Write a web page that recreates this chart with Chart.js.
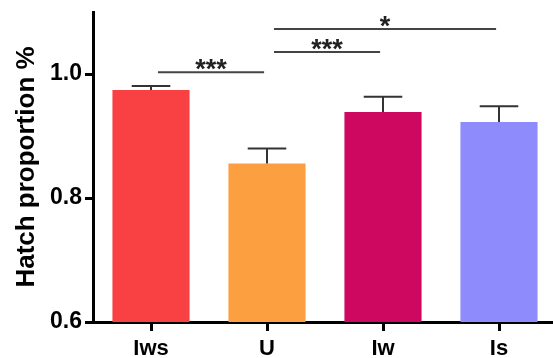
<!DOCTYPE html>
<html>
<head>
<meta charset="utf-8">
<script src="https://cdn.jsdelivr.net/npm/chart.js@4"></script>
<style>
  html, body { margin: 0; padding: 0; background: #fff; overflow: hidden; width: 553px; height: 358px; }
  #c { display: block; }
</style>
</head>
<body>
<canvas id="c" width="557" height="358"></canvas>
<script>
// Hatch proportion per treatment group (mean and SEM)
const groups = ['Iws', 'U', 'Iw', 'Is'];
const means = [0.974, 0.8555, 0.9387, 0.9226];
const sems = [0.0066, 0.0245, 0.0248, 0.0254];
const barColors = ['#F94144', '#FB9F40', '#CE0860', '#8E8CFC'];
const yTickValues = [0.6, 0.8, 1.0];

// Pairwise comparison brackets: group indices, height on the y scale, label
const bracketFrom = [0, 1, 1];
const bracketTo = [1, 2, 3];
const bracketLevel = [1.0027, 1.0355, 1.0726];
const bracketLabel = ['***', '***', '*'];

const FONT = '"Liberation Sans", Arial, Helvetica, sans-serif';

const errorBarPlugin = {
  id: 'errorBars',
  afterDatasetsDraw(chart) {
    const meta = chart.getDatasetMeta(0);
    const y = chart.scales.y;
    const ctx = chart.ctx;
    ctx.save();
    ctx.strokeStyle = '#333';
    ctx.lineWidth = 2;
    meta.data.forEach((bar, i) => {
      const top = y.getPixelForValue(means[i] + sems[i]);
      const half = bar.width / 4;
      ctx.beginPath();
      ctx.moveTo(bar.x, bar.y);
      ctx.lineTo(bar.x, top);
      ctx.moveTo(bar.x - half, top);
      ctx.lineTo(bar.x + half, top);
      ctx.stroke();
    });
    ctx.restore();
  }
};

const bracketPlugin = {
  id: 'brackets',
  afterDraw(chart) {
    const x = chart.scales.x;
    const y = chart.scales.y;
    const ctx = chart.ctx;
    ctx.save();
    ctx.strokeStyle = '#444';
    ctx.fillStyle = '#222';
    ctx.lineWidth = 2;
    ctx.font = 'bold 27px ' + FONT;
    ctx.textAlign = 'center';
    ctx.textBaseline = 'alphabetic';
    bracketFrom.forEach((from, i) => {
      const x0 = x.getPixelForValue(from + 0.06);
      const x1 = x.getPixelForValue(bracketTo[i] - 0.025);
      const yy = y.getPixelForValue(bracketLevel[i]);
      ctx.beginPath();
      ctx.moveTo(x0, yy);
      ctx.lineTo(x1, yy);
      ctx.stroke();
      ctx.fillText(bracketLabel[i], (x0 + x1) / 2, yy + 6);
    });
    ctx.restore();
  }
};

new Chart(document.getElementById('c'), {
  type: 'bar',
  data: {
    labels: groups,
    datasets: [{
      data: means,
      backgroundColor: barColors,
      borderWidth: 0,
      barPercentage: 0.665,
      categoryPercentage: 1
    }]
  },
  options: {
    responsive: false,
    animation: false,
    devicePixelRatio: 1,
    layout: { padding: { left: 0, top: 12, right: 0, bottom: 0 } },
    plugins: { legend: { display: false }, tooltip: { enabled: false } },
    scales: {
      x: {
        offset: true,
        afterFit(scale) { scale.height = 36; scale.paddingLeft = 0; scale.paddingRight = 0; },
        border: { display: true, color: '#000', width: 3 },
        grid: { display: true, offset: false, drawOnChartArea: false, drawTicks: true, tickLength: 9, color: '#000', lineWidth: 3 },
        ticks: { color: '#000', padding: 5, font: { family: FONT, size: 22, weight: 'bold' } }
      },
      y: {
        min: 0.6,
        max: 1.1,
        afterFit(scale) { scale.width = 93; scale.paddingTop = 0; scale.paddingBottom = 0; },
        afterBuildTicks(scale) { scale.ticks = yTickValues.map(v => ({ value: v })); },
        border: { display: true, color: '#000', width: 3 },
        grid: { display: true, drawOnChartArea: false, drawTicks: true, tickLength: 8, color: '#000', lineWidth: 3 },
        ticks: {
          color: '#000',
          padding: 3,
          font: { family: FONT, size: 23, weight: 'bold' },
          callback: v => v.toFixed(1)
        },
        title: {
          display: true,
          text: 'Hatch proportion %',
          color: '#000',
          padding: { top: 14, bottom: 0 },
          font: { family: FONT, size: 26, weight: 'bold', lineHeight: 1 }
        }
      }
    }
  },
  plugins: [errorBarPlugin, bracketPlugin]
});
</script>
</body>
</html>
